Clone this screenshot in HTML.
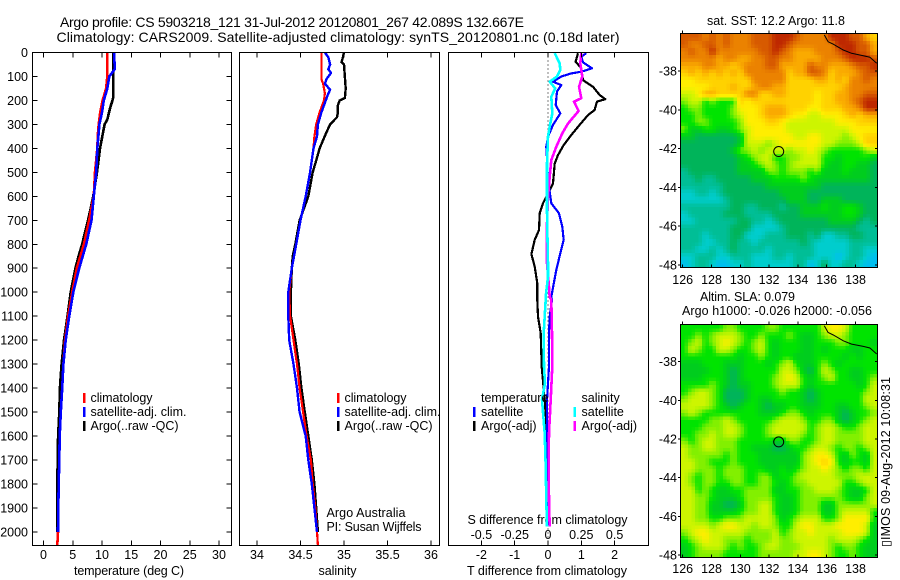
<!DOCTYPE html>
<html><head><meta charset="utf-8"><title>Argo profile</title>
<style>
html,body{margin:0;padding:0;background:#fff;width:900px;height:580px;overflow:hidden}
svg{display:block}
text{font-family:"Liberation Sans",sans-serif;font-size:12.5px;fill:#000}
</style></head>
<body>
<svg id="chart" width="900" height="580" viewBox="0 0 900 580" xmlns="http://www.w3.org/2000/svg">
<rect width="900" height="580" fill="#fff"/>
<text x="60" y="27" font-size="14" style="font-size:14px" textLength="464">Argo profile: CS 5903218_121 31-Jul-2012 20120801_267 42.089S 132.667E</text>
<text x="56.500" y="42" style="font-size:14px" textLength="563">Climatology: CARS2009. Satellite-adjusted climatology: synTS_20120801.nc (0.18d later)</text>
<text x="707" y="25" textLength="138">sat. SST: 12.2 Argo: 11.8</text>
<text x="700" y="301" textLength="95">Altim. SLA: 0.079</text>
<text x="682" y="315" textLength="190">Argo h1000: -0.026 h2000: -0.056</text>
<text transform="translate(890,547) rotate(-90)" textLength="170">▯IMOS 09-Aug-2012 10:08:31</text>
<text x="74" y="575" textLength="110">temperature (deg C)</text>
<text x="318.500" y="575" textLength="38">salinity</text>
<text x="467" y="575" textLength="160">T difference from climatology</text>
<text x="467.500" y="524" textLength="160">S difference from climatology</text>
<text x="326.500" y="517" textLength="79">Argo Australia</text>
<text x="326.500" y="531" textLength="95">PI: Susan Wijffels</text>
<g>
<rect x="83" y="393" width="2.500" height="10" fill="#f00"/>
<rect x="83" y="407" width="2.500" height="10" fill="#00f"/>
<rect x="83" y="421" width="2.500" height="10" fill="#000"/>
<text x="90.500" y="402" textLength="62">climatology</text>
<text x="90.500" y="416" textLength="96">satellite-adj. clim.</text>
<text x="90.500" y="430" textLength="88">Argo(..raw -QC)</text>
</g>
<g>
<rect x="337" y="393" width="2.500" height="10" fill="#f00"/>
<rect x="337" y="407" width="2.500" height="10" fill="#00f"/>
<rect x="337" y="421" width="2.500" height="10" fill="#000"/>
<text x="344.500" y="402" textLength="62">climatology</text>
<text x="344.500" y="416" textLength="96">satellite-adj. clim.</text>
<text x="344.500" y="430" textLength="88">Argo(..raw -QC)</text>
</g>
<g id="overlay-legend"></g>
</svg>
<script>
/* ---------- profile data ---------- */
const tempClimDepth = [0,100,150,200,250,300,340,400,500,600,700,800,900,1000,1100,1200,1300,1400,1500,1600,1700,1800,1900,2000,2055];
const tempClim = [10.9,10.9,10.7,10.1,9.7,9.43,9.3,9.2,8.8,8.6,7.8,6.9,5.7,4.9,4.2,3.7,3.4,3.2,2.95,2.77,2.7,2.6,2.53,2.48,2.36];
const tempSatDepth = [0,50,70,100,150,200,250,300,400,500,600,700,800,900,1000,1100,1200,1300,1400,1500,1600,1700,1800,1900,2000];
const tempSat = [12.05,12.15,12.15,11.25,10.9,10.3,10,9.55,9.2,9,8.6,8.2,7.3,6.1,5.1,4.4,3.8,3.4,3.2,2.95,2.77,2.7,2.6,2.53,2.48];
const tempArgoDepth = [0,190,200,230,280,300,350,400,500,600,650,700,800,850,900,1000,1100,1200,1300,1400,1500,1600,1800,2000];
const tempArgo = [11.9,11.9,11.8,11.4,10.9,10.45,10.05,9.65,9.15,8.5,8.07,7.6,6.6,6,5.45,4.65,4.1,3.5,3.1,2.8,2.7,2.5,2.36,2.36];

const salClimDepth = [0,100,110,130,170,200,250,300,350,400,500,600,650,700,800,900,1000,1100,1200,1300,1400,1500,1600,1700,1800,1900,2000,2055];
const salClim = [34.74,34.74,34.74,34.76,34.78,34.77,34.72,34.68,34.66,34.65,34.61,34.56,34.53,34.5,34.45,34.4,34.37,34.38,34.42,34.46,34.49,34.53,34.57,34.62,34.64,34.67,34.69,34.7];
const salSatDepth = [0,20,50,70,85,110,130,155,180,210,250,300,350,400,500,600,700,800,900,1000,1100,1200,1300,1400,1500,1600,1700,1800,1900,2000];
const salSat = [34.78,34.82,34.84,34.82,34.85,34.8,34.78,34.84,34.81,34.78,34.74,34.7,34.69,34.65,34.61,34.56,34.5,34.45,34.4,34.36,34.36,34.37,34.42,34.46,34.49,34.56,34.59,34.63,34.66,34.69];
const salArgoDepth = [0,30,40,50,150,190,200,220,250,270,300,340,400,450,500,600,650,700,800,850,900,1000,1100,1200,1300,1400,1500,1600,1700,1800,1900,2000];
const salArgo = [35,34.98,34.97,35,35.02,35.01,34.95,34.93,34.93,34.92,34.84,34.79,34.72,34.68,34.64,34.59,34.54,34.49,34.44,34.41,34.4,34.39,34.39,34.44,34.48,34.51,34.55,34.59,34.63,34.66,34.68,34.7];

const dTempSatDepth = [3,17,41,66,80,87,100,122,136,163,219,254,302,351,393,463,532,629,671,727,782,838,907,1019,1032,1102,1171,1310,1449,1588,1727,1866,1978];
const dTempSat = [1.15,1,1.05,1.32,1,0.7,0.4,0.15,0.4,0.27,0.23,0.37,0.15,0,-0.05,-0.02,0,0.1,0.33,0.43,0.47,0.37,0.25,0.1,0.12,0.05,0.03,0.03,-0.03,-0.03,-0.01,-0.01,-0.01];
const dTempArgoDepth = [3,38,66,115,143,177,195,205,240,261,302,344,386,428,463,546,629,671,741,782,841,893,963,1019,1032,1102,1171,1310,1449,1588,1727,1850];
const dTempArgo = [0.9,0.83,1,1.05,1.35,1.55,1.72,1.47,1.4,1.2,0.95,0.7,0.47,0.3,0.2,0.15,-0.15,-0.25,-0.27,-0.4,-0.5,-0.4,-0.32,-0.32,-0.32,-0.3,-0.22,-0.19,-0.1,-0.03,-0.03,-0.03];
const dSalSatDepth = [3,45,73,100,122,150,184,254,309,351,463,574,657,741,880,935,1019,1032,1171,1310,1380,1449,1588,1727,1866,1978];
const dSalSat = [0.05,0.0875,0.0925,0.0675,0.0125,0.055,0.025,0.0325,0.0125,0,-0.0075,-0.0075,-0.0075,-0.005,0,0,-0.0175,-0.0175,-0.0325,-0.03,-0.0225,-0.045,-0.025,-0.0175,-0.0125,-0.0075];
const dSalArgoDepth = [3,45,100,143,191,205,244,296,337,393,449,518,601,713,880,963,1019,1032,1171,1310,1449,1588,1727,1866,1978];
const dSalArgo = [0.25,0.2425,0.2575,0.2325,0.25,0.195,0.23,0.15,0.1075,0.0625,0.025,0.0125,0,-0.0075,-0.0075,0.005,0.0125,0.025,0.03,0.0325,0.02,0.0075,0.005,0.0075,0.0125];

const depthTicks = [0,100,200,300,400,500,600,700,800,900,1000,1100,1200,1300,1400,1500,1600,1700,1800,1900,2000];
const tempTicks = [0,5,10,15,20,25,30];
const salTicks = [34,34.5,35,35.5,36];
const dTempTicks = [-2,-1,0,1,2];
const dSalTicks = [-0.5,-0.25,0,0.25,0.5];
const lonTicks = [126,128,130,132,134,136,138];
const latTicks = [-38,-40,-42,-44,-46,-48];

/* ---------- map data (colour-scale levels, west to east, north to south) ---------- */
const sstGrid = [
[12,12,12,11,12,11,12,11,11,11,12,12,12,13,13,13,12,11,11,11,11,13,13,13,12,12,10,9],
[12,11,11,12,12,11,12,11,11,11,12,12,12,13,13,12,11,11,11,11,11,11,13,13,13,12,12,10],
[11,12,11,11,13,11,11,11,11,11,11,12,12,13,12,11,10,10,10,11,11,11,12,13,13,12,12,10],
[11,11,11,11,11,10,11,11,10,10,11,11,12,12,11,11,10,10,10,10,11,11,11,12,13,13,13,12],
[10,10,10,11,11,10,10,9,10,11,11,11,12,12,10,10,10,10,12,11,11,10,10,10,11,12,12,13],
[9,10,9,10,9,10,9,10,9,11,11,11,11,11,11,9,10,10,12,12,11,9,10,10,10,11,12,12],
[8,8,9,9,9,9,9,9,9,9,11,11,11,11,11,9,9,9,9,10,10,9,10,9,11,11,12,11],
[8,8,8,8,9,9,9,10,9,9,10,11,11,10,10,9,9,9,9,9,9,9,9,10,11,11,11,11],
[7,7,8,10,10,9,9,9,9,11,11,9,9,10,10,9,9,9,9,8,9,9,10,10,11,11,12,12],
[6,7,7,5,6,5,5,5,9,8,9,9,9,9,9,9,9,9,9,8,9,9,10,10,11,12,13,13],
[5,6,6,5,5,5,5,6,8,8,8,9,10,10,10,9,9,9,8,8,9,9,9,10,10,11,13,13],
[5,5,6,5,5,5,5,6,7,8,8,9,10,10,10,9,8,8,7,7,8,8,8,9,10,9,10,10],
[5,5,6,6,5,5,5,5,6,8,8,8,9,9,8,7,7,7,7,7,7,7,8,8,8,9,9,9],
[6,4,4,5,5,4,4,5,6,7,8,8,8,8,8,7,7,7,7,7,7,7,7,7,8,8,8,8],
[4,4,3,3,3,3,3,3,4,7,8,8,8,8,8,8,7,7,8,8,7,7,7,6,7,8,9,9],
[3,3,3,3,3,3,3,3,4,7,7,7,6,7,8,8,8,8,8,8,7,7,6,6,6,7,9,9],
[3,3,3,3,3,3,3,4,6,6,7,6,7,7,7,6,7,7,8,7,6,5,5,5,5,5,6,7],
[3,3,3,3,3,3,3,3,4,5,6,7,7,5,5,6,6,7,7,7,5,5,4,5,5,5,5,4],
[3,3,3,3,3,3,3,3,4,4,5,6,7,6,5,6,7,7,7,7,5,4,4,5,5,4,4,3],
[2,3,3,3,3,3,3,3,4,4,4,4,6,6,5,6,6,6,5,6,4,4,4,5,4,4,4,3],
[2,2,3,2,2,3,3,3,3,3,4,4,4,5,5,5,5,6,5,4,4,4,4,4,4,4,4,3],
[2,2,2,2,2,2,3,3,3,3,3,3,4,4,4,4,4,4,4,4,3,3,3,3,3,3,3,3],
[1,1,2,2,1,2,3,3,3,3,3,3,3,3,4,4,4,4,3,3,3,3,3,3,3,3,3,3],
[1,1,1,1,1,1,2,3,3,3,3,3,3,3,3,4,4,4,3,3,4,4,4,3,3,3,3,3],
[2,2,2,2,2,2,2,3,3,2,2,3,3,3,2,3,3,4,4,4,5,4,4,5,5,4,3,3],
[1,2,2,2,2,2,3,3,3,2,2,2,2,3,3,3,3,4,4,4,4,4,4,5,5,4,3,3],
[1,1,2,2,2,2,2,2,3,3,2,2,1,2,3,3,3,3,3,3,3,4,4,4,4,3,2,3],
[2,2,2,2,2,2,2,3,3,3,1,1,1,1,2,3,3,3,3,3,3,3,3,3,3,2,2,2],
[2,2,2,1,2,2,2,3,3,1,1,1,2,2,2,3,3,3,2,3,1,1,2,2,3,3,2,2],
[2,2,2,1,1,2,2,3,2,2,1,2,2,2,2,2,2,3,2,1,1,1,1,1,2,2,2,2],
[2,2,1,1,2,1,2,3,2,2,2,2,1,2,2,2,2,2,2,1,1,1,1,1,2,2,1,1],
[1,1,2,2,2,1,1,2,2,2,1,1,1,2,2,1,2,2,2,1,1,1,0,1,2,2,1,0],
[0,1,2,2,1,0,0,1,1,2,1,1,1,1,1,1,2,2,0,1,3,1,1,2,2,1,0,0]
];
const slaGrid = [
[5,5,5,5,5,5,6,6,5,5,5,5,6,6,5,5,5,5,5,5,7,8,8,7,5,5,5,5],
[5,5,6,5,6,7,7,7,6,5,5,6,5,5,5,6,5,4,4,5,6,7,7,6,5,5,5,5],
[5,6,7,5,6,7,8,7,6,5,6,7,5,4,5,5,5,4,4,5,5,5,6,6,5,5,5,4],
[5,7,6,5,5,7,7,6,5,5,6,7,5,4,5,5,5,4,4,5,4,5,5,5,4,4,5,5],
[5,5,5,5,5,5,5,5,4,5,5,6,5,4,5,5,4,4,4,5,5,5,5,4,5,4,5,5],
[4,4,4,5,5,5,4,4,4,5,5,5,4,5,6,7,5,4,4,5,6,5,4,5,5,5,5,5],
[4,4,4,4,5,5,4,3,4,5,5,5,5,5,7,7,6,4,3,5,7,6,5,5,4,4,5,5],
[4,4,4,5,5,5,4,3,4,5,5,5,5,6,7,8,7,5,4,5,6,7,5,5,4,4,5,6],
[5,5,5,5,6,5,4,3,4,4,5,5,5,6,7,7,7,5,4,5,5,5,5,5,5,4,5,7],
[5,6,7,7,6,5,3,3,3,4,5,5,5,5,6,5,5,4,3,4,5,5,5,5,5,5,6,7],
[6,7,7,7,6,5,3,3,3,4,5,4,4,5,5,5,5,4,3,4,5,5,5,5,5,5,7,7],
[7,7,7,7,6,5,4,3,4,5,5,4,3,4,4,5,5,4,4,4,5,5,4,4,5,5,6,7],
[6,7,6,5,5,5,5,5,5,5,5,4,4,4,5,6,6,5,4,5,5,5,4,3,4,5,5,6],
[5,5,5,5,6,6,7,6,5,5,5,5,5,6,7,7,7,6,5,5,6,6,4,3,4,5,6,7],
[5,5,5,6,6,6,7,7,6,5,5,5,6,7,7,7,7,7,5,6,7,7,6,5,5,6,7,7],
[5,5,6,6,7,6,7,7,6,5,5,5,6,7,7,7,7,6,5,6,7,7,6,6,6,6,7,7],
[6,5,6,7,7,6,6,6,5,5,5,5,5,4,4,6,6,5,5,6,7,7,6,6,6,6,7,7],
[7,6,6,7,7,6,6,6,5,5,4,4,4,3,3,4,5,5,6,7,7,6,5,6,6,5,6,7],
[7,6,6,6,6,6,5,6,5,5,5,4,4,4,4,4,4,6,7,8,8,7,5,4,6,5,4,7],
[7,7,6,6,5,5,5,6,5,5,5,4,4,4,4,4,4,6,7,8,9,8,5,4,5,5,4,7],
[7,7,6,6,6,5,6,6,6,5,5,5,4,4,5,4,5,6,7,7,8,7,6,5,6,6,5,7],
[7,6,5,6,6,5,6,6,6,5,5,6,6,4,5,5,6,7,7,7,7,7,6,6,6,7,7,7],
[7,6,5,6,6,5,5,6,6,5,5,6,6,5,4,5,6,6,7,7,7,7,7,5,5,6,7,7],
[7,7,5,6,5,4,4,5,5,6,6,6,6,4,4,5,5,6,6,7,7,7,6,5,4,4,5,7],
[7,7,6,6,5,4,4,4,5,6,6,6,6,5,4,4,5,6,6,6,6,6,6,5,4,4,6,7],
[7,7,6,6,4,4,3,3,4,6,6,7,7,5,4,4,5,6,6,6,4,4,6,6,6,6,6,7],
[7,7,6,6,4,4,4,4,5,6,6,7,7,5,4,4,5,6,6,6,4,4,6,7,7,7,7,5],
[7,7,6,6,5,5,6,6,6,7,7,7,7,6,4,5,6,7,7,7,5,5,6,8,8,8,8,5],
[7,7,7,7,6,7,8,8,7,7,6,7,7,6,5,5,7,8,8,7,7,7,8,8,8,8,7,4],
[6,7,8,8,7,7,7,7,7,6,6,6,6,7,5,6,7,7,8,7,7,7,7,8,8,8,7,4],
[5,6,7,8,7,7,6,6,6,5,6,6,6,7,6,6,7,7,7,7,7,6,7,7,7,6,5,4],
[4,5,6,7,7,7,6,5,6,5,5,6,7,7,6,6,6,7,7,7,7,6,5,6,6,5,4,4],
[4,5,6,6,6,6,5,5,5,5,5,6,6,6,6,6,7,7,8,8,7,6,5,5,6,5,4,4]
];
const coastLon = [135.83,136.1,136.46,137.15,137.73,138.54,139,139.47];
const coastLat = [-36.14,-36.49,-36.62,-36.92,-37.09,-37.21,-37.29,-37.6];
const siteLon = 132.667;
const siteLat = -42.15;

/* ---------- drawing ---------- */
const NS = 'http://www.w3.org/2000/svg';
const svg = document.getElementById('chart');
const palette = [[0,190,240],[0,205,205],[0,190,150],[0,180,90],[0,205,30],[0,228,0],[130,240,0],[205,245,0],[255,238,0],[255,210,0],[250,170,0],[235,130,0],[215,90,0],[190,40,0]];

const depthY = d => 52.5 + 0.2397 * d;
const tempX = v => 43.5 + 5.85 * v;
const salX = v => 257 + 87 * (v - 34);
const dTempX = v => 548 + 33.3 * v;
const dSalX = v => 548 + 133.2 * v;
const lonX = v => 682.7 + 14.4 * (v - 126);
const lat1Y = v => 71 + 19.4 * (-38 - v);
const lat2Y = v => 361.7 + 19.33 * (-38 - v);

function levelColor(l) {
  const i = Math.min(Math.floor(l), palette.length - 2);
  const f = l - i;
  const a = palette[i], b = palette[i + 1];
  return 'rgb(' + [0, 1, 2].map(k => Math.round(a[k] + (b[k] - a[k]) * f)).join(',') + ')';
}
function sampleGrid(grid, r, c) {
  const r0 = Math.min(Math.floor(r), grid.length - 1), r1 = Math.min(r0 + 1, grid.length - 1);
  const c0 = Math.min(Math.floor(c), grid[0].length - 1), c1 = Math.min(c0 + 1, grid[0].length - 1);
  const fr = r - r0, fc = c - c0;
  return grid[r0][c0] * (1 - fr) * (1 - fc) + grid[r0][c1] * (1 - fr) * fc + grid[r1][c0] * fr * (1 - fc) + grid[r1][c1] * fr * fc;
}
function make(tag, attrs, parent) {
  const e = document.createElementNS(NS, tag);
  for (const k in attrs) e.setAttribute(k, attrs[k]);
  (parent || svg).appendChild(e);
  return e;
}
function label(str, x, y, anchor, parent) {
  const t = make('text', {x: x, y: y, 'text-anchor': anchor}, parent);
  t.textContent = str;
  
  
  return t;
}
function tick(x1, y1, x2, y2, parent) {
  const l = make('line', {x1: x1, y1: y1, x2: x2, y2: y2, stroke: '#000', 'stroke-width': 1, 'shape-rendering': 'crispEdges'}, parent);
  
  
}
function frame(name) {
  const g = make('g', {});
  
  
  return g;
}
function border(g, x, y, w, h) {
  const r = make('rect', {x: x, y: y, width: w, height: h, fill: 'none', stroke: '#000', 'stroke-width': 1, 'shape-rendering': 'crispEdges'}, g);
  
  
}
function series(g, depths, vals, xf, color, width, name) {
  const pts = vals.map((v, i) => xf(v).toFixed(1) + ',' + depthY(depths[i]).toFixed(1)).join(' ');
  const p = make('polyline', {points: pts, fill: 'none', stroke: color, 'stroke-width': width, 'shape-rendering': 'crispEdges', 'stroke-linejoin': 'round'}, g);
  
  
}

/* temperature panel */
const p1 = frame('temperature-panel');
series(p1, tempArgoDepth, tempArgo, tempX, '#000', 2.6, 'temperature-argo-line');
series(p1, tempClimDepth, tempClim, tempX, '#f00', 2.6, 'temperature-climatology-line');
series(p1, tempSatDepth, tempSat, tempX, '#00f', 2.6, 'temperature-satellite-line');
border(p1, 32.5, 52.5, 199, 493);
depthTicks.forEach(d => {
  tick(32.5, depthY(d), 37.5, depthY(d), p1);
  tick(231.5, depthY(d), 226.5, depthY(d), p1);
  label(String(d), 28, depthY(d) + 4.5, 'end', p1);
});
tempTicks.forEach(v => {
  tick(tempX(v), 52.5, tempX(v), 57.5, p1);
  tick(tempX(v), 545.5, tempX(v), 540.5, p1);
  label(String(v), tempX(v), 559, 'middle', p1);
});

/* salinity panel */
const p2 = frame('salinity-panel');
series(p2, salArgoDepth, salArgo, salX, '#000', 2.4, 'salinity-argo-line');
series(p2, salClimDepth, salClim, salX, '#f00', 2.2, 'salinity-climatology-line');
series(p2, salSatDepth, salSat, salX, '#00f', 2.4, 'salinity-satellite-line');
border(p2, 239.5, 52.5, 200, 493);
salTicks.forEach(v => {
  tick(salX(v), 52.5, salX(v), 57.5, p2);
  tick(salX(v), 545.5, salX(v), 540.5, p2);
  label(String(v), salX(v), 559, 'middle', p2);
});

/* difference panel */
const p3 = frame('difference-panel');
const zero = make('line', {x1: dTempX(0), y1: 52.5, x2: dTempX(0), y2: 545.5, stroke: '#000', 'stroke-width': 1, 'stroke-dasharray': '1 3', 'shape-rendering': 'crispEdges'}, p3);


series(p3, dTempArgoDepth, dTempArgo, dTempX, '#000', 2.2, 'temperature-difference-argo-line');
series(p3, dTempSatDepth, dTempSat, dTempX, '#00f', 2.2, 'temperature-difference-satellite-line');
series(p3, dSalArgoDepth, dSalArgo, dSalX, '#f0f', 2.6, 'salinity-difference-argo-line');
series(p3, dSalSatDepth, dSalSat, dSalX, '#0ff', 2.6, 'salinity-difference-satellite-line');
border(p3, 448.5, 52.5, 200, 493);
dTempTicks.forEach(v => {
  tick(dTempX(v), 52.5, dTempX(v), 57.5, p3);
  tick(dTempX(v), 545.5, dTempX(v), 540.5, p3);
  label(String(v), dTempX(v), 559, 'middle', p3);
});
dSalTicks.forEach(v => {
  label(String(v), dSalX(v), 539, 'middle', p3);
});

/* difference legend */
const dl = document.getElementById('overlay-legend');
const legendLabels = ['temperature', 'satellite', 'Argo(-adj)', 'salinity', 'satellite', 'Argo(-adj)'];
const legendColors = [null, '#00f', '#000', null, '#0ff', '#f0f'];
legendLabels.forEach((str, i) => {
  const col = i < 3 ? 481 : 581.5;
  const row = 402 + 14 * (i % 3);
  const t = make('text', {x: col, y: row}, dl);
  t.textContent = str;
  
  
  if (legendColors[i]) {
    const s = make('rect', {x: col - 8, y: row - 9, width: 2.5, height: 10, fill: legendColors[i]}, dl);
    
    
  }
});
svg.appendChild(dl);

/* maps: grid levels are resampled 2x so cell size matches the source raster */
function drawMap(grid, top, bottom, latY, labelY, name) {
  const g = frame(name);
  const left = 681, right = 877;
  const scale = 2;
  const rows = grid.length * scale, cols = grid[0].length * scale;
  const cw = (right - left) / cols, ch = (bottom - top) / rows;
  for (let r = 0; r < rows; r++) {
    for (let c = 0; c < cols; c++) {
      const lvl = sampleGrid(grid, Math.max(0, (r + 0.5) / scale - 0.5), Math.max(0, (c + 0.5) / scale - 0.5));
      const cell = make('rect', {x: (left + c * cw).toFixed(2), y: (top + r * ch).toFixed(2), width: (cw + 0.5).toFixed(2), height: (ch + 0.5).toFixed(2), fill: levelColor(lvl), 'shape-rendering': 'crispEdges'}, g);
      
      
    }
  }
  const coast = make('polyline', {points: coastLon.map((v, i) => lonX(v).toFixed(1) + ',' + latY(coastLat[i]).toFixed(1)).join(' '), fill: 'none', stroke: '#000', 'stroke-width': 1}, g);
  
  
  const site = make('circle', {cx: lonX(siteLon), cy: latY(siteLat), r: 5, fill: 'none', stroke: '#000', 'stroke-width': 1}, g);
  
  
  border(g, left - 0.5, top - 0.5, right - left + 1, bottom - top + 1);
  lonTicks.forEach(v => {
    tick(lonX(v), top - 0.5, lonX(v), top - 3.5, g);
    tick(lonX(v), bottom + 0.5, lonX(v), bottom - 2.5, g);
    label(String(v), lonX(v), labelY, 'middle', g);
  });
  latTicks.forEach(v => {
    tick(left - 0.5, latY(v), left - 3, latY(v), g);
    tick(right + 0.5, latY(v), right - 2, latY(v), g);
    label(String(v), 677, latY(v) + 4.5, 'end', g);
  });
}
drawMap(sstGrid, 34, 267, lat1Y, 284, 'sst-map');
drawMap(slaGrid, 325, 557, lat2Y, 573, 'sla-map');
</script>
</body></html>
